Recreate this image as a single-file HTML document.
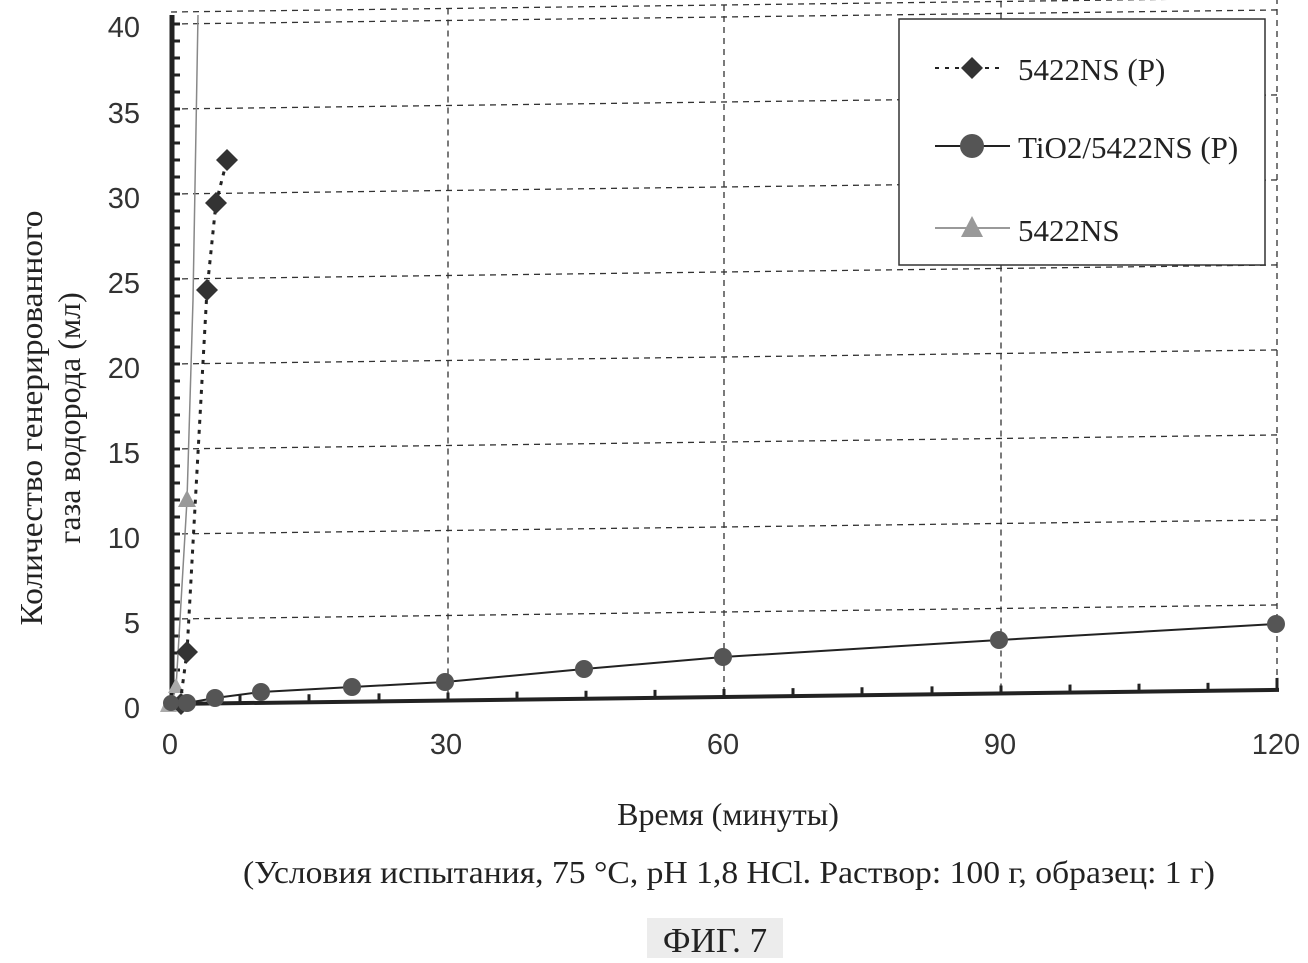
<!DOCTYPE html>
<html><head><meta charset="utf-8"><style>
html,body{margin:0;padding:0;background:#fff;}
svg{display:block;}
</style></head><body>
<svg width="1308" height="963" viewBox="0 0 1308 963" xmlns="http://www.w3.org/2000/svg">
<rect width="1308" height="963" fill="#fff"/>
<g transform="matrix(1,-0.0127,0,1,0,2.17)">
  <g stroke="#333" stroke-width="1.3" stroke-dasharray="6,5" fill="none">
    <line x1="171" y1="619" x2="1277" y2="619"/>
    <line x1="171" y1="534" x2="1277" y2="534"/>
    <line x1="171" y1="449" x2="1277" y2="449"/>
    <line x1="171" y1="364" x2="1277" y2="364"/>
    <line x1="171" y1="279" x2="1277" y2="279"/>
    <line x1="171" y1="194" x2="1277" y2="194"/>
    <line x1="171" y1="109" x2="1277" y2="109"/>
    <line x1="171" y1="24" x2="1277" y2="24"/>
    <line x1="171" y1="12" x2="1277" y2="12"/>
    <line x1="448" y1="12" x2="448" y2="704"/>
    <line x1="724" y1="12" x2="724" y2="704"/>
    <line x1="1001" y1="12" x2="1001" y2="704"/>
    <line x1="1277" y1="12" x2="1277" y2="704"/>
  </g>
  <line x1="170" y1="704" x2="1279" y2="704" stroke="#222" stroke-width="4"/>
  <g stroke="#222" stroke-width="3">
    <line x1="240" y1="704" x2="240" y2="696"/><line x1="309" y1="704" x2="309" y2="696"/><line x1="379" y1="704" x2="379" y2="696"/><line x1="448" y1="704" x2="448" y2="696"/>
    <line x1="517" y1="704" x2="517" y2="696"/><line x1="586" y1="704" x2="586" y2="696"/><line x1="655" y1="704" x2="655" y2="696"/><line x1="724" y1="704" x2="724" y2="696"/>
    <line x1="793" y1="704" x2="793" y2="696"/><line x1="862" y1="704" x2="862" y2="696"/><line x1="932" y1="704" x2="932" y2="696"/><line x1="1001" y1="704" x2="1001" y2="696"/>
    <line x1="1070" y1="704" x2="1070" y2="696"/><line x1="1139" y1="704" x2="1139" y2="696"/><line x1="1208" y1="704" x2="1208" y2="696"/><line x1="1277" y1="704" x2="1277" y2="692"/>
  </g>
</g>
<line x1="172" y1="15" x2="172" y2="706" stroke="#222" stroke-width="5"/>
<g stroke="#222" stroke-width="3">
  <line x1="172" y1="24" x2="180" y2="24"/><line x1="172" y1="41" x2="180" y2="41"/><line x1="172" y1="58" x2="180" y2="58"/><line x1="172" y1="75" x2="180" y2="75"/><line x1="172" y1="92" x2="180" y2="92"/>
  <line x1="172" y1="109" x2="180" y2="109"/><line x1="172" y1="126" x2="180" y2="126"/><line x1="172" y1="143" x2="180" y2="143"/><line x1="172" y1="160" x2="180" y2="160"/><line x1="172" y1="177" x2="180" y2="177"/>
  <line x1="172" y1="194" x2="180" y2="194"/><line x1="172" y1="211" x2="180" y2="211"/><line x1="172" y1="228" x2="180" y2="228"/><line x1="172" y1="245" x2="180" y2="245"/><line x1="172" y1="262" x2="180" y2="262"/>
  <line x1="172" y1="279" x2="180" y2="279"/><line x1="172" y1="296" x2="180" y2="296"/><line x1="172" y1="313" x2="180" y2="313"/><line x1="172" y1="330" x2="180" y2="330"/><line x1="172" y1="347" x2="180" y2="347"/>
  <line x1="172" y1="364" x2="180" y2="364"/><line x1="172" y1="381" x2="180" y2="381"/><line x1="172" y1="398" x2="180" y2="398"/><line x1="172" y1="415" x2="180" y2="415"/><line x1="172" y1="432" x2="180" y2="432"/>
  <line x1="172" y1="449" x2="180" y2="449"/><line x1="172" y1="466" x2="180" y2="466"/><line x1="172" y1="483" x2="180" y2="483"/><line x1="172" y1="500" x2="180" y2="500"/><line x1="172" y1="517" x2="180" y2="517"/>
  <line x1="172" y1="534" x2="180" y2="534"/><line x1="172" y1="551" x2="180" y2="551"/><line x1="172" y1="568" x2="180" y2="568"/><line x1="172" y1="585" x2="180" y2="585"/><line x1="172" y1="602" x2="180" y2="602"/>
  <line x1="172" y1="619" x2="180" y2="619"/><line x1="172" y1="636" x2="180" y2="636"/><line x1="172" y1="653" x2="180" y2="653"/><line x1="172" y1="670" x2="180" y2="670"/><line x1="172" y1="687" x2="180" y2="687"/>
</g>
<!-- legend -->
<rect x="899" y="19" width="366" height="246" fill="#fff" stroke="#333" stroke-width="1.5"/>
<line x1="935" y1="68" x2="1005" y2="68" stroke="#222" stroke-width="2" stroke-dasharray="4,6"/>
<polygon points="972,57 983,68 972,79 961,68" fill="#333"/>
<text x="1018" y="80" font-family="Liberation Serif, serif" font-size="31" fill="#222">5422NS (P)</text>
<line x1="935" y1="146" x2="1010" y2="146" stroke="#222" stroke-width="2"/>
<circle cx="972" cy="146" r="12" fill="#555"/>
<text x="1018" y="158" font-family="Liberation Serif, serif" font-size="31" fill="#222">TiO2/5422NS (P)</text>
<line x1="935" y1="228" x2="1010" y2="228" stroke="#999" stroke-width="2"/>
<polygon points="972,216 983,237 961,237" fill="#999"/>
<text x="1018" y="241" font-family="Liberation Serif, serif" font-size="31" fill="#222">5422NS</text>
<!-- 5422NS gray -->
<polyline points="171,704 176,688 187,500 193,300 198,15" fill="none" stroke="#888" stroke-width="1.5"/>
<polygon points="187,490 196,507 178,507" fill="#999"/>
<polygon points="176,678 184,693 168,693" fill="#aaa"/>
<polygon points="168,695 177,712 160,712" fill="#aaa"/>
<!-- 5422NS (P) -->
<polyline points="171,704 180,704 187,652 207,290 216,203 227,160" fill="none" stroke="#222" stroke-width="3" stroke-dasharray="4,6"/>
<g fill="#333">
<polygon points="187,641 198,652 187,663 176,652"/>
<polygon points="207,279 218,290 207,301 196,290"/>
<polygon points="216,192 227,203 216,214 205,203"/>
<polygon points="227,149 238,160 227,171 216,160"/>
<polygon points="181,693 192,704 181,715 170,704"/>
</g>
<!-- TiO2 -->
<polyline points="171,704 187,703 215,698 261,692 352,687 445,682 584,669 723,657 999,640 1276,624" fill="none" stroke="#222" stroke-width="2"/>
<g fill="#555">
<circle cx="171" cy="703" r="8"/><circle cx="187" cy="703" r="9"/><circle cx="215" cy="698" r="9"/><circle cx="261" cy="692" r="9"/>
<circle cx="352" cy="687" r="9"/><circle cx="445" cy="682" r="9"/><circle cx="584" cy="669" r="9"/>
<circle cx="723" cy="657" r="9"/><circle cx="999" cy="640" r="9"/><circle cx="1276" cy="624" r="9"/>
</g>
<g font-family="Liberation Sans, sans-serif" font-size="29" fill="#333" text-anchor="end">
<text x="140" y="37">40</text><text x="140" y="123">35</text><text x="140" y="208">30</text><text x="140" y="293">25</text>
<text x="140" y="378">20</text><text x="140" y="463">15</text><text x="140" y="548">10</text><text x="140" y="633">5</text><text x="140" y="718">0</text>
</g>
<g font-family="Liberation Sans, sans-serif" font-size="29" fill="#333" text-anchor="middle">
<text x="170" y="754">0</text><text x="446" y="754">30</text><text x="723" y="754">60</text><text x="1000" y="754">90</text><text x="1276" y="754">120</text>
</g>
<text x="728" y="825" text-anchor="middle" font-family="Liberation Serif, serif" font-size="32" fill="#222">Время (минуты)</text>
<text x="729" y="883" text-anchor="middle" font-family="Liberation Serif, serif" font-size="32" fill="#222" textLength="972" lengthAdjust="spacingAndGlyphs">(Условия испытания, 75 °C, pH 1,8 HCl. Раствор: 100 г, образец: 1 г)</text>
<rect x="647" y="918" width="136" height="40" fill="#ececec"/>
<text x="715" y="952" text-anchor="middle" font-family="Liberation Serif, serif" font-size="35" fill="#222">ФИГ. 7</text>
<g font-family="Liberation Serif, serif" font-size="32" fill="#222" text-anchor="middle">
<text transform="translate(42 418) rotate(-90)" textLength="415" lengthAdjust="spacingAndGlyphs">Количество генерированного</text>
<text transform="translate(80 418) rotate(-90)">газа водорода (мл)</text>
</g>
</svg>
</body></html>
